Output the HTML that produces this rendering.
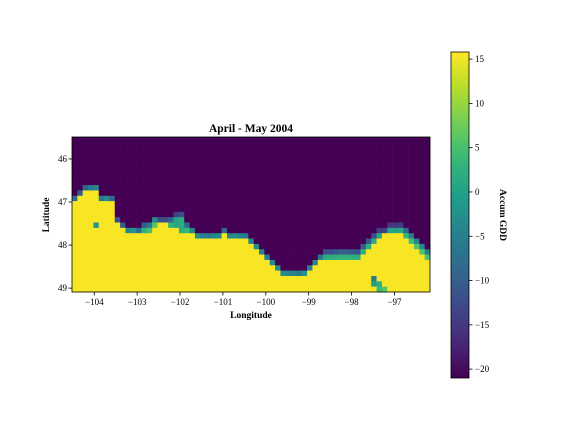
<!DOCTYPE html>
<html><head><meta charset="utf-8">
<style>
html,body{margin:0;padding:0;background:#fff;}
svg{display:block;font-family:"Liberation Serif",serif;}
</style></head>
<body>
<svg id="chart" width="576" height="432" viewBox="0 0 576 432">
  <g id="heat"></g>
  <rect x="72" y="137" width="358" height="155" fill="none" stroke="#000" stroke-width="0.8"/>
  <g id="xticks"></g>
  <g id="yticks"></g>
  <text x="251" y="132" text-anchor="middle" font-size="11.5" font-weight="bold">April - May 2004</text>
  <text x="251" y="318" text-anchor="middle" font-size="9.5" font-weight="bold">Longitude</text>
  <text transform="translate(49,215) rotate(-90)" text-anchor="middle" font-size="9.5" font-weight="bold">Latitude</text>
  <defs><linearGradient id="cbg" x1="0" y1="1" x2="0" y2="0"></linearGradient></defs>
  <rect x="451" y="52" width="18" height="326" fill="url(#cbg)" stroke="#000" stroke-width="0.8"/>
  <g id="cbticks"></g>
  <text transform="translate(500,215) rotate(90)" text-anchor="middle" font-size="9.5" font-weight="bold">Accum GDD</text>
</svg>
<script>
// data
const yellowStart = [12,11,10,10,10,12,12,12,16,17,18,18,18,18,18,17,16,16,17,17,18,18,18,19,19,19,19,19,18,19,19,19,19,20,21,22,23,24,25,26,26,26,26,26,25,24,23,23,23,23,23,23,23,23,22,21,20,19,18,18,18,18,19,20,21,22,23];
const edgeRow     = [11,10,9,9,9,11,11,11,15,16,17,17,17,16,16,15,15,15,15,14,14,16,17,18,18,18,18,18,17,18,18,18,18,19,20,21,22,23,24,25,25,25,25,25,24,23,22,21,21,21,21,21,21,21,20,19,18,17,17,16,16,16,17,18,19,20,21];
const edgeValues  = [-8,-10,-9,-6,-4,-6,-3,-9,-12,-10,-4,-2,-8,-10,-6,-3,-12,-12,-9,-14,-12,-8,-4,-3,-5,-6,-4,-3,-9,-4,-3,-5,-6,-4,-3,-4,-5,-4,-3,-3,-4,-5,-6,-2,-5,-4,-6,-12,-12,-11,-10,-10,-11,-12,-10,-11,-12,-14,-14,-15,-15,-14,-8,-6,-4,-4,-5];
const islandCols  = [4,56,56,57,57,58];
const islandRows  = [16,26,27,27,28,28];
const islandVals  = [-2,-6,0,2,4,6];
const lowValue = -21, highValue = 15.5;
const xTicks = [-104,-103,-102,-101,-100,-99,-98,-97];
const yTicks = [46,47,48,49];
const cbTicks = [15,10,5,0,-5,-10,-15,-20];
const nCols = 67, nRows = 29;
const lonMin=-104.52, lonMax=-96.17, latMin=45.49, latMax=49.09;
const vmin=-21, vmax=15.8;

const NS="http://www.w3.org/2000/svg";
const vir=[[68,1,84],[72,40,120],[62,73,137],[49,104,142],[38,130,142],[31,158,137],[53,183,121],[110,206,88],[181,222,43],[253,231,37]];
function cmap(v){let t=(v-vmin)/(vmax-vmin);t=Math.max(0,Math.min(1,t));const p=t*(vir.length-1);const i=Math.min(vir.length-2,Math.floor(p));const f=p-i;const a=vir[i],b=vir[i+1];return `rgb(${a.map((c,k)=>Math.round(c+(b[k]-c)*f)).join(',')})`;}
const X0=72,X1=430,Y0=137,Y1=292;
const xs=lon=>X0+(lon-lonMin)/(lonMax-lonMin)*(X1-X0);
const ys=lat=>Y0+(lat-latMin)/(latMax-latMin)*(Y1-Y0);
const cw=(X1-X0)/nCols, ch=(Y1-Y0)/nRows;
const grid=[];
for(let r=0;r<nRows;r++){grid.push([]);for(let c=0;c<nCols;c++){let v=r>=yellowStart[c]?highValue:lowValue;if(r===edgeRow[c])v=edgeValues[c];else if(r>edgeRow[c]&&r<yellowStart[c])v=(edgeValues[c]+highValue)/2;grid[r].push(v);}}
islandCols.forEach((c,i)=>{grid[islandRows[i]][c]=islandVals[i];});
const heat=document.getElementById('heat');
for(let r=0;r<nRows;r++)for(let c=0;c<nCols;c++){
  const el=document.createElementNS(NS,'rect');
  el.setAttribute('x',(X0+c*cw).toFixed(2));el.setAttribute('y',(Y0+r*ch).toFixed(2));
  el.setAttribute('width',(cw+0.3).toFixed(2));el.setAttribute('height',(ch+0.3).toFixed(2));
  el.setAttribute('fill',cmap(grid[r][c]));
  
  
  heat.appendChild(el);
}
function txt(g,x,y,s,anchor,name){const t=document.createElementNS(NS,'text');t.setAttribute('x',x);t.setAttribute('y',y);t.setAttribute('font-size','9');t.setAttribute('text-anchor',anchor);t.textContent=s;
  
  
  g.appendChild(t);}
function line(g,x1,y1,x2,y2){const l=document.createElementNS(NS,'line');l.setAttribute('x1',x1);l.setAttribute('y1',y1);l.setAttribute('x2',x2);l.setAttribute('y2',y2);l.setAttribute('stroke','#000');l.setAttribute('stroke-width','0.8');
  
  
  g.appendChild(l);}
const mm=v=>v<0?'\u2212'+Math.abs(v):''+v;
const gx=document.getElementById('xticks');
xTicks.forEach(v=>{const x=xs(v);line(gx,x,Y1,x,Y1+3.5);txt(gx,x,Y1+13,mm(v),'middle','x-tick-label');});
const gy=document.getElementById('yticks');
yTicks.forEach(v=>{const y=ys(v);line(gy,X0-3.5,y,X0,y);txt(gy,X0-5,y+3,mm(v),'end','y-tick-label');});
const grad=document.getElementById('cbg');
for(let i=0;i<=20;i++){const s=document.createElementNS(NS,'stop');s.setAttribute('offset',(i/20));s.setAttribute('stop-color',cmap(vmin+(vmax-vmin)*i/20));grad.appendChild(s);}
const gc=document.getElementById('cbticks');
const cby=v=>378-(v-vmin)/(vmax-vmin)*326;
cbTicks.forEach(v=>{const y=cby(v);line(gc,469,y,472.5,y);txt(gc,475,y+3,mm(v),'start','colorbar-tick-label');});
</script>
</body></html>
